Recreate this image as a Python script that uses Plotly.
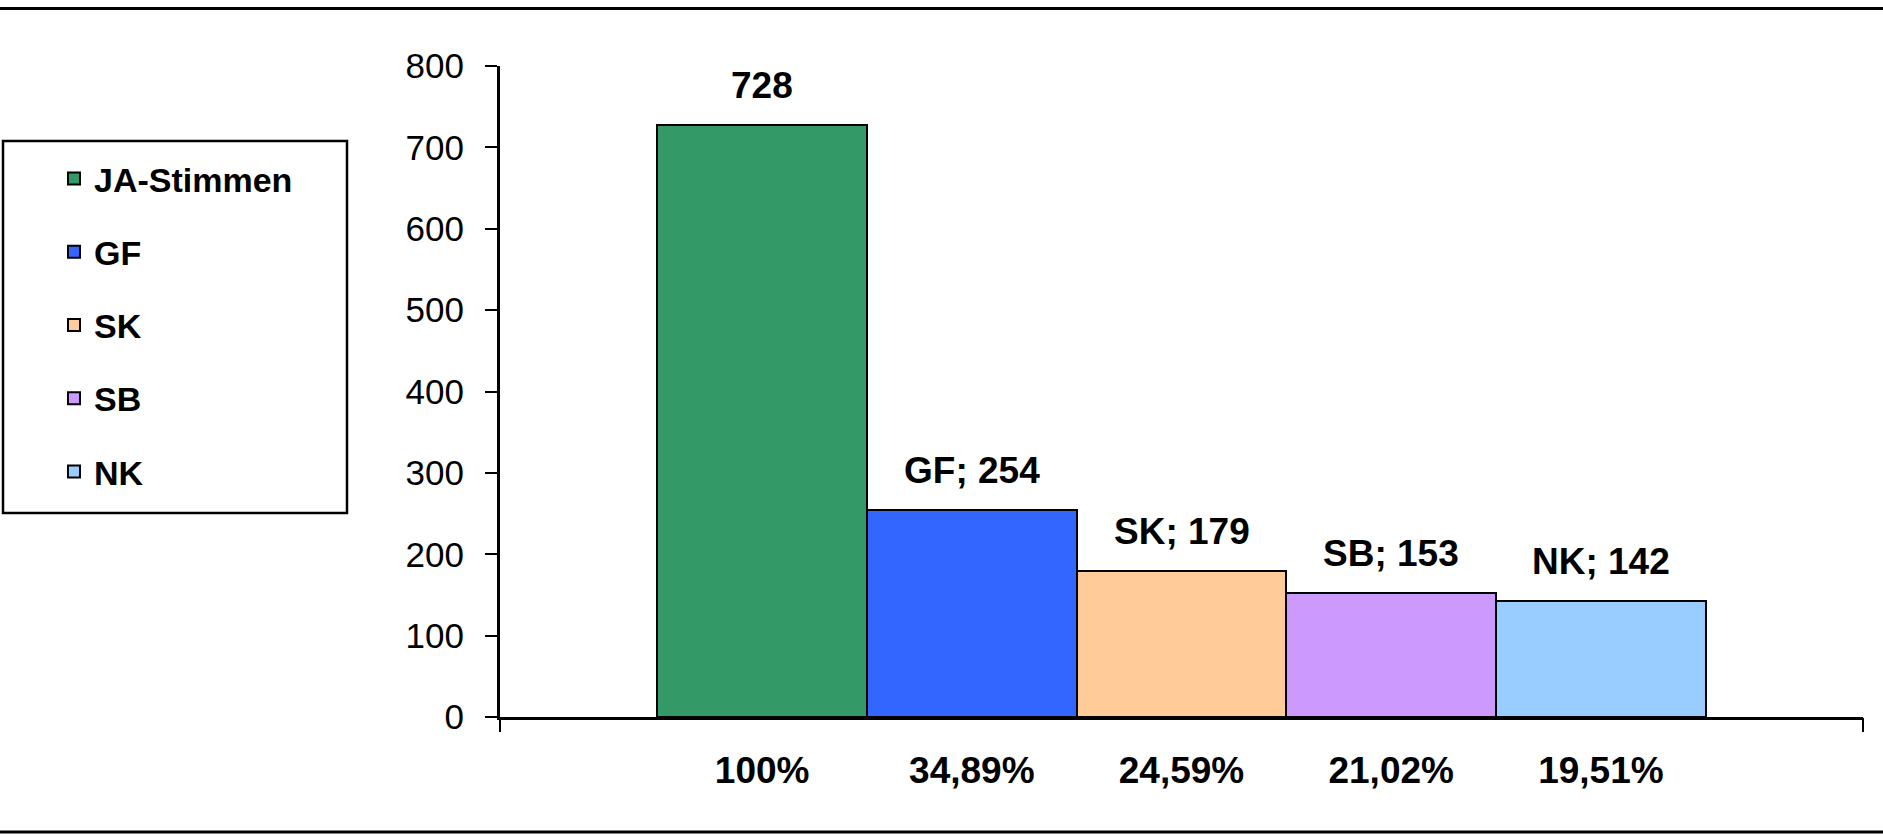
import plotly.graph_objects as go

# ---- data ----
series_names = ["JA-Stimmen", "GF", "SK", "SB", "NK"]
values = [728, 254, 179, 153, 142]
bar_labels = ["728", "GF; 254", "SK; 179", "SB; 153", "NK; 142"]
percent_labels = ["100%", "34,89%", "24,59%", "21,02%", "19,51%"]
colors = ["#339966", "#3366FF", "#FFCC99", "#CC99FF", "#99CCFF"]
y_ticks = [0, 100, 200, 300, 400, 500, 600, 700, 800]

# page geometry (body margin is removed below, so figure px == page px)
W, H = 1883, 837

AX_LEFT, AX_RIGHT, AX_TOP, AX_BOTTOM = 500, 1863, 66, 717
L = AX_LEFT
R = W - AX_RIGHT
T = AX_TOP
B = H - AX_BOTTOM
PW, PH = W - L - R, H - T - B
FONT = "Liberation Sans, Arial, sans-serif"


def px_x(p):  # page px -> paper x
    return (p - L) / PW


def px_y(p):  # page px -> paper y
    return (H - B - p) / PH


positions = list(range(len(values)))

fig = go.Figure()
for i, (name, v, c) in enumerate(zip(series_names, values, colors)):
    fig.add_trace(go.Bar(
        x=[positions[i]], y=[v], name=name, width=1,
        marker=dict(color=c, line=dict(color="black", width=2)),
        legendgroup=name, hoverinfo="skip",
    ))
    fig.add_annotation(
        x=positions[i], y=v, text=bar_labels[i], showarrow=False,
        yanchor="bottom", yshift=17, xref="x", yref="y",
        font=dict(family=FONT, size=37, color="black", weight="bold"),
    )

# invisible trace for end ticks on the category axis
fig.add_trace(go.Scatter(x=[-1.25, 5.25], y=[0, 0], xaxis="x2", mode="none",
                         showlegend=False, hoverinfo="skip"))

fig.update_layout(
    width=W, height=H,
    margin=dict(l=L, r=R, t=T, b=B, autoexpand=False),
    paper_bgcolor="white", plot_bgcolor="white",
    barmode="overlay", bargap=0,
    showlegend=True,
    legend=dict(
        xref="container", yref="container",
        x=54 / W, y=1 - 150 / H, xanchor="left", yanchor="top",
        font=dict(family=FONT, size=34, color="black", weight="bold"),
        tracegroupgap=26, bgcolor="rgba(0,0,0,0)", borderwidth=0,
        itemclick=False, itemdoubleclick=False,
    ),
    xaxis=dict(
        range=[-1.25, 5.25], tickvals=positions, ticktext=percent_labels,
        ticks="", showline=True, linecolor="black", linewidth=3,
        showgrid=False, zeroline=False, ticklabelstandoff=19,
        tickfont=dict(family=FONT, size=37, color="black", weight="bold"),
    ),
    xaxis2=dict(
        range=[-1.25, 5.25], overlaying="x", side="bottom",
        tickvals=[-1.25, 5.25], ticks="outside", ticklen=14, tickwidth=2,
        tickcolor="black", showticklabels=False, showgrid=False,
        zeroline=False, showline=False,
    ),
    yaxis=dict(
        range=[0, 800], tickvals=y_ticks, ticks="outside", ticklen=12,
        tickwidth=2, tickcolor="black", showline=True, linecolor="black",
        linewidth=3, showgrid=False, zeroline=False, ticklabelstandoff=14,
        tickfont=dict(family=FONT, size=35, color="black"),
    ),
    shapes=[
        dict(type="rect", xref="paper", yref="paper",
             x0=px_x(3), x1=px_x(347), y0=px_y(141), y1=px_y(513),
             line=dict(color="black", width=2.5), fillcolor="rgba(0,0,0,0)"),
        dict(type="line", xref="paper", yref="paper",
             x0=px_x(0), x1=px_x(W), y0=px_y(8.5), y1=px_y(8.5),
             line=dict(color="black", width=3)),
        dict(type="line", xref="paper", yref="paper",
             x0=px_x(0), x1=px_x(W), y0=px_y(832), y1=px_y(832),
             line=dict(color="black", width=3)),
    ],
)

fig.write_html(
    "out.html",
    config={"displayModeBar": False, "staticPlot": False},
    post_script="document.body.style.margin='0';document.body.style.overflow='hidden';",
)
